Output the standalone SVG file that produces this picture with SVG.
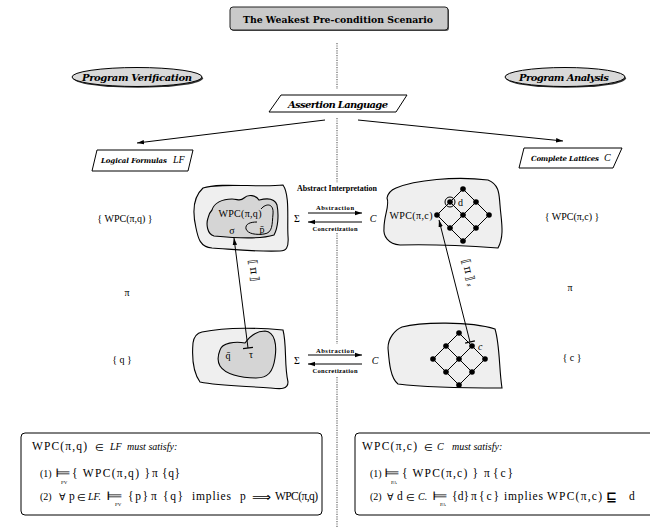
<svg xmlns="http://www.w3.org/2000/svg" width="650" height="528" viewBox="0 0 650 528">
<defs>
<marker id="ah" markerWidth="8" markerHeight="6" refX="7" refY="3" orient="auto-start-reverse" markerUnits="userSpaceOnUse"><path d="M0,0.8 L7,3 L0,5.2 Z" fill="#000"/></marker>
<marker id="bar" markerWidth="4" markerHeight="10" refX="2" refY="5" orient="auto" markerUnits="userSpaceOnUse"><path d="M2,0 L2,10" stroke="#000" stroke-width="1.3"/></marker>
</defs>
<style>
.t{font-family:"Liberation Serif","Times New Roman",serif;fill:#000;font-size:10px}
.bx{font-size:11.5px}
.it{font-style:italic}
.bi{font-family:"DejaVu Serif","Liberation Serif",serif;font-weight:bold;font-style:italic;fill:#000}
.b{font-family:"Liberation Serif","Times New Roman",serif;font-weight:bold;fill:#000}
.sym{font-family:"DejaVu Sans","Liberation Sans",sans-serif;fill:#000}
.sem{font-family:"DejaVu Serif","DejaVu Sans",serif;fill:#000;font-size:11px;letter-spacing:2px}
.c{text-anchor:middle}
.ln{stroke:#000;stroke-width:1;fill:none}
.dot{stroke:#666;stroke-width:1.2;stroke-dasharray:1.2,1.2;fill:none}
.outer{fill:#efefef;stroke:#000;stroke-width:1.1}
.inner{fill:#d5d5d5;stroke:#000;stroke-width:1.1}
.para{fill:#fff;stroke:#000;stroke-width:1}
.node{fill:#000}
.box{fill:#fff;stroke:#000;stroke-width:1}
.sub{font-family:"Liberation Serif",serif;font-size:5px;fill:#000}
</style>

<g id="separator">
<path class="dot" d="M337,43 V89"/>
<path class="dot" d="M337,118 V183"/>
<path class="dot" d="M337,233 V344"/>
<path class="dot" d="M337,377 V528"/>
</g>

<g id="title">
<rect x="231" y="8" width="218" height="23" rx="3" fill="#555"/>
<rect x="230" y="7" width="218" height="23" rx="3" fill="#c9c9c9" stroke="#222" stroke-width="1"/>
<text x="338" y="22.5" class="c" font-family="DejaVu Serif, Liberation Serif, serif" font-weight="bold" font-size="9.5" textLength="190" lengthAdjust="spacingAndGlyphs">The Weakest Pre-condition Scenario</text>
</g>

<g id="program-verification">
<ellipse cx="138" cy="78.3" rx="65" ry="9.5" fill="#333"/>
<ellipse cx="137" cy="77" rx="65" ry="9.5" fill="#d9d9d9" stroke="#000" stroke-width="1"/>
<text x="137" y="81" class="bi c" font-size="10" textLength="110">Program Verification</text>
</g>

<g id="program-analysis">
<ellipse cx="566" cy="78.3" rx="60" ry="9.5" fill="#333"/>
<ellipse cx="565" cy="77" rx="60" ry="9.5" fill="#d9d9d9" stroke="#000" stroke-width="1"/>
<text x="564" y="81" class="bi c" font-size="10" textLength="90">Program Analysis</text>
</g>

<g id="assertion-language">
<polygon class="para" points="281,95 407,95 396,112 269,112"/>
<text x="338" y="107.5" class="bi c" font-size="10" textLength="100">Assertion Language</text>
</g>

<g id="logical-formulas">
<polygon class="para" points="97,150 193,150 188,171 92,171"/>
<text x="101" y="163" class="bi" font-size="7" textLength="66">Logical Formulas</text>
<text x="173" y="163" class="t it" font-size="9">LF</text>
</g>

<g id="complete-lattices">
<polygon class="para" points="524,148 622,148 613,168 519,168"/>
<text x="531" y="161" class="bi" font-size="7" textLength="68">Complete Lattices</text>
<text x="604" y="161" class="t it" font-size="10">C</text>
</g>

<g id="labels-left">
<text x="125" y="222" class="t c">{ WPC(π,q) }</text>
<text x="127" y="296" class="t c">π</text>
<text x="122" y="363" class="t c">{ q }</text>
</g>

<g id="labels-right">
<text x="572" y="220" class="t c">{ WPC(π,c) }</text>
<text x="570" y="291" class="t c">π</text>
<text x="572" y="361" class="t c">{ c }</text>
</g>

<g id="lf-pre">
<path class="outer" d="M203,188 C220,182 260,188 283,185 C290,195 287,220 288,236 C289,248 286,251 280,251 C255,252 230,249 212,248 C200,247 198,238 196,228 C193,215 192,198 203,188 Z"/>
<path class="inner" d="M212,210 C214,203 222,199 232,199 C238,199 240,202 244,198 C248,194 256,195 259,200 C263,199 274,196 277,205 C279,215 278,228 274,235 C262,239 235,238 214,236 C207,234 206,224 208,218 C209,214 210,212 212,210 Z"/>
<path class="ln" stroke-width="1.2" d="M261,209 C266,203 274,203 273,214 C272,224 273,233 264,234 C256,235 248,234 246,229 C245,224 250,222 257,222"/>
<text x="240" y="217" class="t c" textLength="43">WPC(π,q)</text>
<text x="232" y="234" class="t c">σ</text>
<text x="262" y="233" class="t c">p̄</text>
</g>

<g id="lf-post">
<path class="outer" d="M202,332 C225,327 260,328 283,330 C287,345 284,365 288,382 C288,390 280,389 270,388 C245,386 220,386 200,382 C193,372 192,355 193,343 C194,336 197,333 202,332 Z"/>
<path class="inner" d="M220,350 C222,343 235,341 245,343 C250,336 256,331 265,331 C275,332 277,345 275,358 C273,372 268,378 256,378 C240,378 225,374 220,366 C217,361 218,355 220,350 Z"/>
<text x="228" y="359" class="t c">q̄</text>
<text x="251" y="358" class="t c" font-size="9">τ</text>
</g>

<g id="cl-pre">
<path class="outer" d="M396,188 C415,180 455,176 488,180 C500,185 499,195 500,205 C501,220 505,235 498,248 C470,246 430,244 400,245 C388,244 383,236 384,228 C384,215 390,205 387,198 C388,193 391,190 396,188 Z"/>
<g class="ln">
<path d="M437,215 L463,189 M450,228 L476,202 M463,241 L489,215 M463,189 L489,215 M450,202 L476,228 M437,215 L463,241"/>
</g>
<circle cx="450" cy="202" r="5" fill="none" stroke="#000" stroke-width="1"/>
<g class="node">
<circle cx="463" cy="189" r="2.8"/><circle cx="450" cy="202" r="2.8"/><circle cx="476" cy="202" r="2.8"/>
<circle cx="437" cy="215" r="2.8"/><circle cx="463" cy="215" r="2.8"/><circle cx="489" cy="215" r="2.8"/>
<circle cx="450" cy="228" r="2.8"/><circle cx="476" cy="228" r="2.8"/><circle cx="463" cy="241" r="2.8"/>
</g>
<text x="458" y="206" class="t">d</text>
<text x="411" y="219" class="t c" textLength="43">WPC(π,c)</text>
</g>

<g id="cl-post">
<path class="outer" d="M402,327 C420,322 470,321 495,329 C500,345 499,370 502,388 C470,388 430,388 398,384 C390,378 389,360 388,348 C388,338 395,330 402,327 Z"/>
<g class="ln">
<path d="M433,359 L459,333 M446,372 L472,346 M459,385 L485,359 M459,333 L485,359 M446,346 L472,372 M433,359 L459,385"/>
</g>
<g class="node">
<circle cx="459" cy="333" r="2.8"/><circle cx="446" cy="346" r="2.8"/><circle cx="472" cy="346" r="2.8"/>
<circle cx="433" cy="359" r="2.8"/><circle cx="459" cy="359" r="2.8"/><circle cx="485" cy="359" r="2.8"/>
<circle cx="446" cy="372" r="2.8"/><circle cx="472" cy="372" r="2.8"/><circle cx="459" cy="385" r="2.8"/>
</g>
<text x="478" y="350" class="t it">c</text>
</g>

<g id="abstract-interpretation">
<text x="337" y="191" class="b c" font-size="8" textLength="80">Abstract Interpretation</text>
<text x="297" y="222" class="t c">Σ</text>
<text x="373" y="222" class="t it c">C</text>
<text x="335" y="210" class="b c" font-size="6.5" textLength="38">Abstraction</text>
<text x="335" y="231" class="b c" font-size="6.5" textLength="45">Concretization</text>
<text x="297" y="364" class="t c">Σ</text>
<text x="375" y="364" class="t it c">C</text>
<text x="335" y="353" class="b c" font-size="6.5" textLength="38">Abstraction</text>
<text x="335" y="373" class="b c" font-size="6.5" textLength="45">Concretization</text>
</g>

<g id="connectors">
<path class="ln" d="M325,120 L137,143" marker-end="url(#ah)"/>
<path class="ln" d="M358,120 L563,141" marker-end="url(#ah)"/>
<path class="ln" d="M308,213 L362,213" marker-end="url(#ah)"/>
<path class="ln" d="M362,222 L308,222" marker-end="url(#ah)"/>
<path class="ln" d="M308,355 L362,355" marker-end="url(#ah)"/>
<path class="ln" d="M362,364 L308,364" marker-end="url(#ah)"/>
<path class="ln" d="M248,348 L234,238" marker-start="url(#bar)" marker-end="url(#ah)"/>
<path class="ln" d="M470,342 L439,220" marker-start="url(#bar)" marker-end="url(#ah)"/>
<text class="sem" transform="translate(249,260) rotate(83)">⟦π⟧</text>
<text class="sem" transform="translate(462,260) rotate(76)">⟦π⟧<tspan font-size="7" dy="2" letter-spacing="0">♯</tspan></text>
</g>

<g id="lf-conditions">
<rect class="box" x="21" y="433" width="301" height="82" rx="4"/>
<text x="32" y="450" class="t bx" textLength="55">WPC(π,q)</text>
<text x="95" y="451" class="t" font-size="13">∈</text>
<text x="110" y="450" class="t it" font-size="9">LF</text>
<text x="127" y="450" class="t it" font-size="7">must satisfy:</text>
<text x="40" y="477" class="t" font-size="9.5">(1)</text>
<text x="55" y="477" class="sym" font-size="12" textLength="16" lengthAdjust="spacingAndGlyphs">⊨</text>
<text x="61" y="484" class="sub">PV</text>
<text x="72" y="477" class="t bx" textLength="78">{ WPC(π,q) }</text>
<text x="152" y="477" class="t bx">π</text>
<text x="162" y="477" class="t bx" textLength="18">{ q }</text>
<text x="40" y="500" class="t" font-size="9.5">(2)</text>
<text x="59" y="500" class="sym" font-size="9.5">∀</text>
<text x="69" y="500" class="t bx">p</text>
<text x="77" y="501" class="t" font-size="13">∈</text>
<text x="88" y="500" class="t it" font-size="9">LF.</text>
<text x="106" y="500" class="sym" font-size="12" textLength="17" lengthAdjust="spacingAndGlyphs">⊨</text>
<text x="115" y="506" class="sub">PV</text>
<text x="128" y="500" class="t bx" textLength="20">{ p }</text>
<text x="151" y="500" class="t bx">π</text>
<text x="163" y="500" class="t bx" textLength="20">{ q }</text>
<text x="192" y="500" class="t bx" textLength="39">implies</text>
<text x="240" y="500" class="t bx">p</text>
<text x="252" y="501" class="sym" font-size="12" textLength="19" lengthAdjust="spacingAndGlyphs">⟹</text>
<text x="275" y="500" class="t bx" textLength="43">WPC(π,q)</text>
</g>

<g id="cl-conditions">
<rect class="box" x="355" y="433" width="305" height="82" rx="4"/>
<text x="362" y="450" class="t bx" textLength="55">WPC(π,c)</text>
<text x="424" y="451" class="t" font-size="13">∈</text>
<text x="437" y="450" class="t it" font-size="9">C</text>
<text x="452" y="450" class="t it" font-size="7">must satisfy:</text>
<text x="370" y="477" class="t" font-size="9.5">(1)</text>
<text x="384" y="477" class="sym" font-size="12" textLength="16" lengthAdjust="spacingAndGlyphs">⊨</text>
<text x="391" y="484" class="sub">PA</text>
<text x="402" y="477" class="t bx" textLength="76">{ WPC(π,c) }</text>
<text x="484" y="477" class="t bx">π</text>
<text x="493" y="477" class="t bx" textLength="20">{ c }</text>
<text x="370" y="500" class="t" font-size="9.5">(2)</text>
<text x="387" y="500" class="sym" font-size="9.5">∀</text>
<text x="397" y="500" class="t bx">d</text>
<text x="406" y="501" class="t" font-size="13">∈</text>
<text x="418" y="500" class="t it" font-size="9">C.</text>
<text x="432" y="500" class="sym" font-size="12" textLength="16" lengthAdjust="spacingAndGlyphs">⊨</text>
<text x="440" y="506" class="sub">PA</text>
<text x="452" y="500" class="t bx" textLength="17">{ d }</text>
<text x="471" y="500" class="t bx">π</text>
<text x="479" y="500" class="t bx" textLength="20">{ c }</text>
<text x="504" y="500" class="t bx" textLength="39">implies</text>
<text x="547" y="500" class="t bx" textLength="55">WPC(π,c)</text>
<text x="606" y="501" class="sym" font-size="13" font-weight="bold">⊑</text>
<text x="629" y="500" class="t bx">d</text>
</g>
</svg>
